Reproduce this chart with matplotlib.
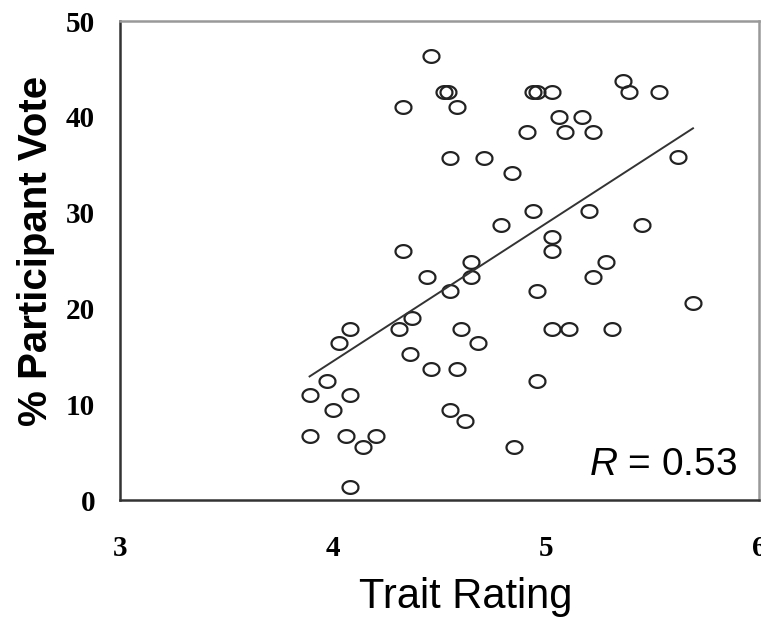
import numpy as np
import matplotlib.pyplot as plt
from matplotlib.path import Path

plt.rcParams['font.family'] = 'Liberation Sans'
plt.rcParams['mathtext.fontset'] = 'custom'
plt.rcParams['mathtext.it'] = 'Liberation Sans:italic'
plt.rcParams['mathtext.rm'] = 'Liberation Sans'

# trait rating vs % participant vote
trait = [4.46, 4.52, 4.54, 4.33, 4.58, 4.55, 4.71, 4.33, 4.65, 4.94,
         4.96, 5.03, 5.36, 5.39, 5.53, 5.06, 5.17, 4.91, 5.09, 5.22,
         5.62, 4.84, 4.94, 5.20, 4.79, 5.45, 5.03, 5.03, 5.28, 4.65,
         4.44, 4.55, 4.37, 4.31, 4.08, 4.03, 4.60, 4.68, 4.36, 4.46,
         4.58, 3.97, 3.89, 4.08, 4.00, 4.55, 4.62, 3.89, 4.06, 4.20,
         4.14, 4.08, 5.22, 4.96, 5.69, 5.03, 5.11, 5.31, 4.96, 4.85]
vote = [46.4, 42.6, 42.6, 41.0, 41.0, 35.7, 35.7, 26.0, 24.8, 42.6,
        42.6, 42.6, 43.7, 42.6, 42.6, 40.0, 40.0, 38.4, 38.4, 38.4,
        35.8, 34.1, 30.2, 30.2, 28.7, 28.7, 27.5, 26.0, 24.8, 23.3,
        23.3, 21.8, 19.0, 17.8, 17.9, 16.4, 17.9, 16.4, 15.2, 13.7,
        13.7, 12.4, 11.0, 11.0, 9.4, 9.4, 8.2, 6.7, 6.7, 6.7,
        5.5, 1.4, 23.3, 21.8, 20.6, 17.9, 17.9, 17.9, 12.4, 5.5]

# regression line end points
fit_x = [3.89, 5.69]
fit_y = [12.9, 38.8]

xticks = [3, 4, 5, 6]
yticks = [0, 10, 20, 30, 40, 50]

# slightly squashed circle, like the stretched original
t = np.linspace(0, 2*np.pi, 60)
ellipse = Path(np.column_stack([np.cos(t), 0.8*np.sin(t)]))

fig = plt.figure(figsize=(7.61, 6.18), dpi=100)
ax = fig.add_axes([0.1577, 0.1909, 0.8397, 0.7751])

ax.plot(trait, vote, linestyle='none', marker=ellipse, markersize=11.5,
        markerfacecolor='none', markeredgecolor='#222222', markeredgewidth=1.6)
ax.plot(fit_x, fit_y, color='#333333', lw=1.4)

ax.set_xlim(3, 6)
ax.set_ylim(0, 50)
ax.set_xticks(xticks)
ax.set_yticks(yticks)
ax.tick_params(length=0)
ax.tick_params(axis='x', pad=25)
ax.tick_params(axis='y', pad=18)
for lab in ax.get_xticklabels() + ax.get_yticklabels():
    lab.set_fontfamily('Liberation Serif')
    lab.set_fontweight('bold')
    lab.set_fontsize(21)

for s in ['left', 'bottom']:
    ax.spines[s].set_color('#333333')
    ax.spines[s].set_linewidth(1.8)
for s in ['top', 'right']:
    ax.spines[s].set_color('#999999')
    ax.spines[s].set_linewidth(1.8)

ax.set_ylabel('% Participant Vote', fontsize=29, fontweight='bold')
ax.yaxis.set_label_coords(-0.102, 0.52)
fig.text(0.612, 0.0162, 'Trait Rating', fontsize=30, ha='center',
         va='baseline')

ax.text(0.9656, 0.0523, r'$R$ = 0.53', transform=ax.transAxes,
        fontsize=28, ha='right', va='baseline')

fig.savefig('out.png', dpi=100)
